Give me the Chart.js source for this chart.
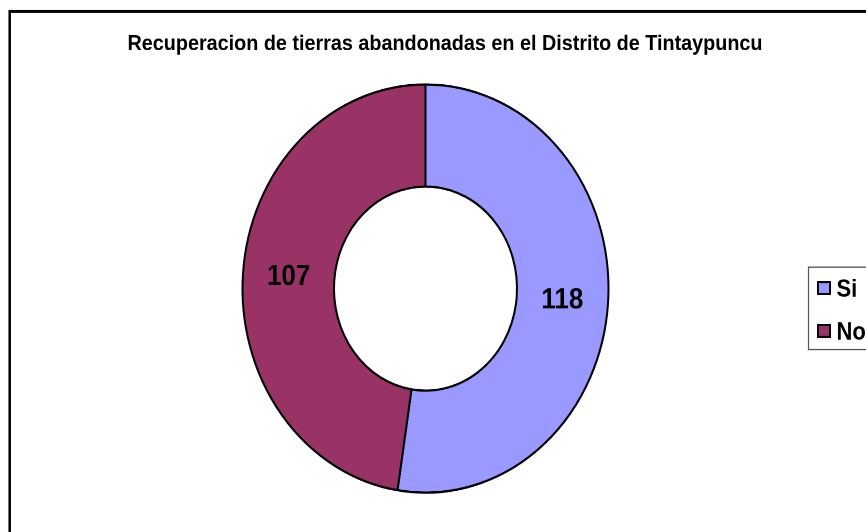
<!DOCTYPE html>
<html>
<head>
<meta charset="utf-8">
<script src="https://cdn.jsdelivr.net/npm/chart.js@4/dist/chart.umd.min.js"></script>
<style>
  html, body { margin: 0; padding: 0; background: #ffffff; width: 866px; height: 532px; }
  #wrap { position: absolute; left: 0; top: 0; width: 866px; height: 477px; transform-origin: 0 0; transform: scaleY(1.1153); }
  canvas { display: block; }
</style>
</head>
<body>
<div id="wrap"><canvas id="c" width="866" height="477"></canvas></div>
<script>
const chartTitle = 'Recuperacion de tierras abandonadas en el Distrito de Tintaypuncu';
const categories = ['Si', 'No'];
const values = [118, 107];
const colors = ['#9999FF', '#993366'];

const FONT = '"Liberation Sans Narrow", "Arial Narrow", "Liberation Sans", Arial, sans-serif';

const framePlugin = {
  id: 'frame',
  afterDraw(chart) {
    const ctx = chart.ctx;
    ctx.save();
    ctx.strokeStyle = '#000000';
    ctx.lineWidth = 2.5;
    ctx.strokeRect(9.7, 10.2, 900, 500);
    ctx.fillStyle = '#000000';
    ctx.font = 'bold 19.8px ' + FONT;
    ctx.textAlign = 'center';
    ctx.textBaseline = 'alphabetic';
    ctx.fillText(chartTitle, 445, 44.8);
    ctx.strokeStyle = '#555555';
    ctx.lineWidth = 1.2;
    ctx.strokeRect(808.5, 239.5, 100, 74);
    const rows = [258, 296.5];
    chart.data.labels.forEach((lab, i) => {
      const cy = rows[i];
      ctx.fillStyle = chart.data.datasets[0].backgroundColor[i];
      ctx.fillRect(818, cy - 5, 12, 10.5);
      ctx.strokeStyle = '#000000';
      ctx.lineWidth = 2;
      ctx.strokeRect(818, cy - 5, 12, 10.5);
      ctx.fillStyle = '#000000';
      ctx.font = 'bold 22px ' + FONT;
      ctx.textAlign = 'left';
      ctx.fillText(lab, 836.5, cy + 8);
    });
    ctx.restore();
  }
};

const valueLabels = {
  id: 'valueLabels',
  afterDatasetsDraw(chart) {
    const ctx = chart.ctx;
    const meta = chart.getDatasetMeta(0);
    ctx.save();
    ctx.fillStyle = '#000000';
    ctx.font = 'bold 26px ' + FONT;
    ctx.textAlign = 'center';
    ctx.textBaseline = 'middle';
    meta.data.forEach((arc, i) => {
      const p = arc.tooltipPosition(false);
      ctx.fillText(String(chart.data.datasets[0].data[i]), p.x, p.y);
    });
    ctx.restore();
  }
};

new Chart(document.getElementById('c'), {
  type: 'doughnut',
  data: {
    labels: categories,
    datasets: [{
      data: values,
      backgroundColor: colors,
      borderColor: '#000000',
      borderWidth: 2
    }]
  },
  options: {
    responsive: false,
    animation: false,
    devicePixelRatio: 2,
    cutout: '50%',
    radius: 183,
    layout: { padding: { left: 242.5, right: 257.5, top: 75.7, bottom: 35.3 } },
    plugins: {
      legend: { display: false },
      title: { display: false },
      tooltip: { enabled: false }
    }
  },
  plugins: [valueLabels, framePlugin]
});
</script>
</body>
</html>
